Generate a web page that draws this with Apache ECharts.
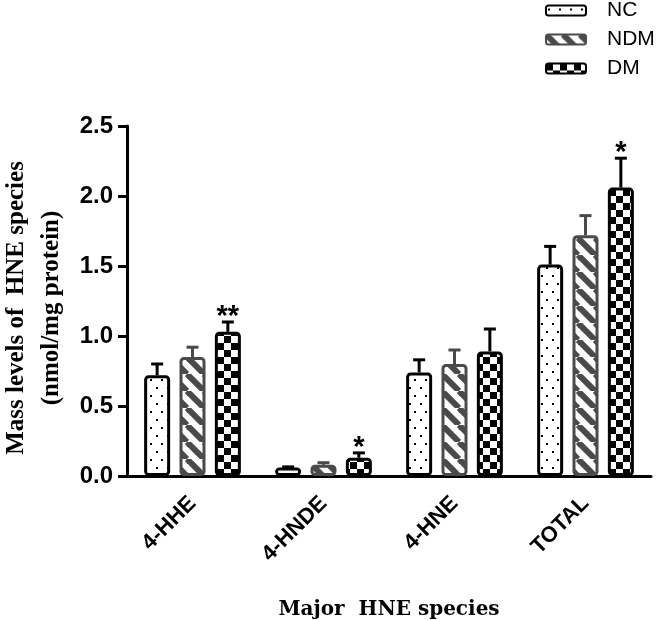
<!DOCTYPE html>
<html>
<head>
<meta charset="utf-8">
<script src="https://cdn.jsdelivr.net/npm/echarts@6/dist/echarts.min.js"></script>
<style>html,body{margin:0;padding:0;background:#fff}#c{width:661px;height:620px}</style>
</head>
<body>
<div id="c"></div>
<script>
const categories = ['4-HHE', '4-HNDE', '4-HNE', 'TOTAL'];
const seriesNames = ['NC', 'NDM', 'DM'];
const ncValues = [0.72, 0.06, 0.74, 1.51];
const ncErrors = [0.08, 0.005, 0.09, 0.13];
const ndmValues = [0.85, 0.08, 0.80, 1.72];
const ndmErrors = [0.07, 0.015, 0.10, 0.14];
const dmValues = [1.03, 0.13, 0.89, 2.06];
const dmErrors = [0.07, 0.035, 0.16, 0.21];
const dmStars = ['**', '*', '', '*'];
const yTicks = [0, 0.5, 1.0, 1.5, 2.0, 2.5];

function makeTile(w, h, draw) {
  const c = document.createElement('canvas');
  c.width = w; c.height = h;
  const ctx = c.getContext('2d');
  ctx.fillStyle = '#fff'; ctx.fillRect(0, 0, w, h);
  draw(ctx, w, h);
  return c;
}
const dotTile = makeTile(11, 16, (ctx) => {
  ctx.fillStyle = '#000';
  ctx.fillRect(2, 3, 2, 2);
  ctx.fillRect(7, 11, 2, 2);
});
const stripeTile = makeTile(17, 17, (ctx, w, h) => {
  ctx.strokeStyle = '#4a4a4a'; ctx.lineWidth = 6;
  for (const k of [-17, 0, 17]) {
    ctx.beginPath(); ctx.moveTo(k, 0); ctx.lineTo(k + 17, 17); ctx.stroke();
  }
});
const checkTile = makeTile(14, 14, (ctx) => {
  ctx.fillStyle = '#000';
  ctx.fillRect(0, 0, 7, 7);
  ctx.fillRect(7, 7, 7, 7);
});

const groups = [
  { name: seriesNames[0], vals: ncValues, errs: ncErrors, fill: dotTile, border: '#000' },
  { name: seriesNames[1], vals: ndmValues, errs: ndmErrors, fill: stripeTile, border: '#4a4a4a' },
  { name: seriesNames[2], vals: dmValues, errs: dmErrors, fill: checkTile, border: '#000' }
];
const BAR_W = 26, GAP = 0.36;

const series = [];
groups.forEach((g) => {
  series.push({
    name: g.name, type: 'bar', barWidth: BAR_W, barGap: (GAP * 100) + '%',
    data: g.vals,
    itemStyle: { color: { image: g.fill, repeat: 'repeat' }, borderColor: g.border, borderWidth: 3, borderRadius: 3 },
    z: 2
  });
});
groups.forEach((g, gi) => {
  series.push({
    type: 'custom', name: g.name + '_err', z: 3, silent: true,
    data: g.vals.map((v, i) => [i, v, g.errs[i]]),
    renderItem: function (params, api) {
      const off = (gi - 1) * BAR_W * (1 + GAP);
      const p0 = api.coord([api.value(0), api.value(1)]);
      const p1 = api.coord([api.value(0), api.value(1) + api.value(2)]);
      const x = p0[0] + off;
      return {
        type: 'group', children: [
          { type: 'line', shape: { x1: x, y1: p0[1], x2: x, y2: p1[1] }, style: { stroke: g.border, lineWidth: 3 } },
          { type: 'line', shape: { x1: x - 6, y1: p1[1], x2: x + 6, y2: p1[1] }, style: { stroke: g.border, lineWidth: 3 } }
        ]
      };
    }
  });
});
series.push({
  type: 'custom', name: 'stars', z: 4, silent: true,
  data: dmValues.map((v, i) => [i, v + dmErrors[i], dmStars[i]]),
  renderItem: function (params, api) {
    const off = BAR_W * (1 + GAP);
    const p = api.coord([api.value(0), api.value(1)]);
    const s = dmStars[params.dataIndex];
    if (!s) return null;
    return {
      type: 'text',
      style: { text: s, x: p[0] + off, y: p[1] - 5, align: 'center', verticalAlign: 'middle',
        font: 'bold 29px "Liberation Sans", Arial, sans-serif', fill: '#000' }
    };
  }
});

const chart = echarts.init(document.getElementById('c'), null, { renderer: 'canvas' });
chart.setOption({
  animation: false,
  backgroundColor: '#fff',
  grid: { left: 127, right: 10, top: 126, bottom: 144, containLabel: false, outerBoundsMode: 'none' },
  legend: {
    data: seriesNames, orient: 'vertical', left: 540, top: -5,
    itemWidth: 40, itemHeight: 10, itemGap: 8,
    textStyle: { fontFamily: '"Liberation Sans", Arial, sans-serif', fontSize: 21, color: '#000', padding: [0, 0, 0, 16] }
  },
  xAxis: {
    type: 'category', data: categories,
    name: 'Major  HNE species', nameLocation: 'middle', nameGap: 124,
    nameTextStyle: { fontFamily: '"DejaVu Serif", serif', fontWeight: 'bold', fontSize: 20, color: '#000' },
    axisLine: { lineStyle: { color: '#000', width: 3 } },
    axisTick: { alignWithLabel: true, length: 8, lineStyle: { color: '#000', width: 3 } },
    axisLabel: { rotate: 45, margin: 24, fontFamily: '"Liberation Sans", Arial, sans-serif', fontWeight: 'bold', fontSize: 22, color: '#000' }
  },
  yAxis: {
    type: 'value', min: yTicks[0], max: yTicks[yTicks.length - 1], interval: 0.5,
    name: 'Mass levels of  HNE species\n(nmol/mg protein)', nameLocation: 'middle', nameRotate: 90, nameGap: 48,
    nameTextStyle: { fontFamily: '"Liberation Serif", "Times New Roman", serif', fontWeight: 'bold', fontSize: 25, lineHeight: 35, color: '#000', padding: [0, 14, 0, 0] },
    axisLine: { show: true, lineStyle: { color: '#000', width: 3 } },
    axisTick: { show: true, length: 9, lineStyle: { color: '#000', width: 3 } },
    splitLine: { show: false },
    axisLabel: { margin: 14, formatter: (v) => v.toFixed(1), fontFamily: '"Liberation Sans", Arial, sans-serif', fontWeight: 'bold', fontSize: 24, color: '#000' }
  },
  series: series
});
</script>
</body>
</html>
